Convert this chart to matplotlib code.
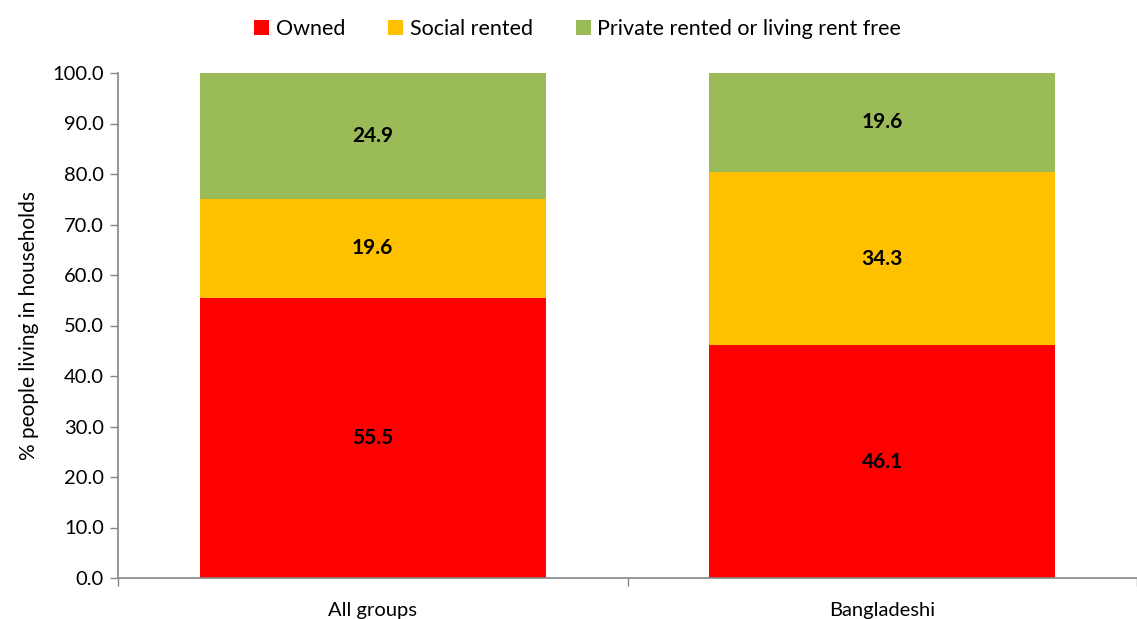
import matplotlib.pyplot as plt
import numpy as np

plt.rcParams['font.family'] = ['Lato', 'DejaVu Sans']

groups = ['All groups', 'Bangladeshi']
owned = [55.5, 46.1]
social_rented = [19.6, 34.3]
private_rented = [24.9, 19.6]

series_names = ['Owned', 'Social rented', 'Private rented or living rent free']
colors = ['#FF0000', '#FFC000', '#9BBB59']

fig = plt.figure(figsize=(11.37, 6.19), dpi=100)
ax = fig.add_axes([118 / 1137, 1 - 578 / 619, 1 - 118 / 1137, 505 / 619])

x = np.arange(len(groups))
bottom = np.zeros(len(groups))
for vals, name, col in zip([owned, social_rented, private_rented], series_names, colors):
    bars = ax.bar(x, vals, width=0.68, bottom=bottom, color=col, label=name, zorder=2)
    for b, v, y0 in zip(bars, vals, bottom):
        ax.text(b.get_x() + b.get_width() / 2, y0 + v / 2, f'{v:.1f}',
                ha='center', va='center', fontsize=15, fontweight='bold', color='black')
    bottom += np.array(vals)

ax.set_xlim(-0.5, 1.46)
ax.set_ylim(0, 100)
ax.set_yticks(np.arange(0, 101, 10))
ax.set_yticklabels([f'{v:.1f}' for v in np.arange(0, 101, 10)], fontsize=14.5)
ax.set_xticks(x)
ax.set_xticklabels(groups, fontsize=14.5)
ax.tick_params(axis='x', length=0, pad=17)
ax.set_xticks([-0.5, 0.5, 1.5], minor=True)
ax.tick_params(axis='x', which='minor', length=6, color='#868686', width=1)
ax.tick_params(axis='y', length=6, color='#868686', width=1, pad=4)
ax.set_ylabel('% people living in households', fontsize=15, labelpad=10)

for s in ['top', 'right']:
    ax.spines[s].set_visible(False)
for s in ['left', 'bottom']:
    ax.spines[s].set_color('#868686')
    ax.spines[s].set_linewidth(1.2)

fig.legend(loc='upper center', bbox_to_anchor=(0.508, 1.0), ncol=3, frameon=False,
           fontsize=15.5, handlelength=0.7, handleheight=0.7, handletextpad=0.3,
           columnspacing=2.0)

fig.savefig('out.png', dpi=100)
